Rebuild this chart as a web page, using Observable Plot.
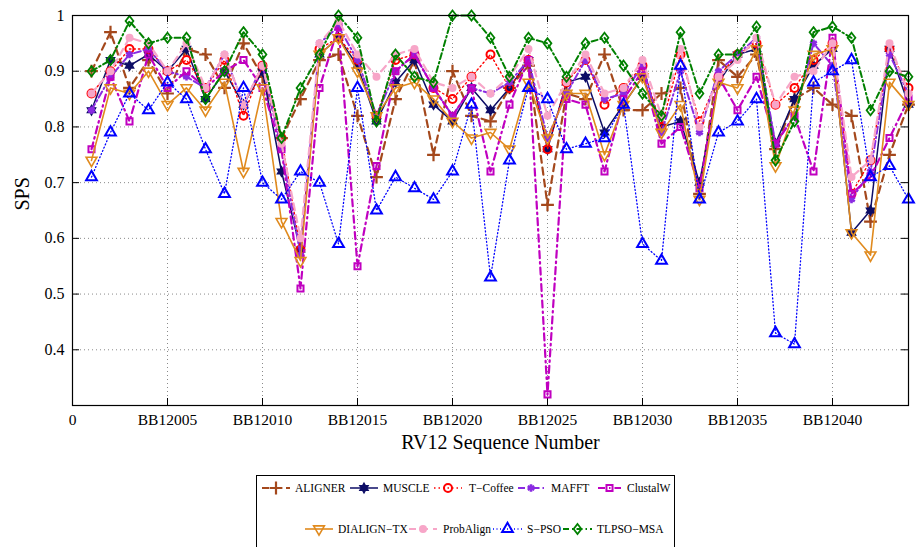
<!DOCTYPE html>
<html><head><meta charset="utf-8">
<script src="https://cdn.jsdelivr.net/npm/d3@7"></script>
<script src="https://cdn.jsdelivr.net/npm/@observablehq/plot@0.6"></script>
<style>
html,body{margin:0;padding:0;background:#fff;}
#chart{width:917px;font-family:"Liberation Serif","Times New Roman",serif;}
#chart svg{display:block;}
</style></head><body><div id="chart"></div>
<script>
// ---------------- data ----------------
const sequenceNumbers = [1,2,3,4,5,6,7,8,9,10,11,12,13,14,15,16,17,18,19,20,21,22,23,24,25,26,27,28,29,30,31,32,33,34,35,36,37,38,39,40,41,42,43,44];
const aligner   = [0.90,0.97,0.87,0.92,0.86,0.94,0.93,0.87,0.95,0.89,0.78,0.85,0.92,0.93,0.82,0.71,0.85,0.92,0.75,0.90,0.82,0.81,0.87,0.91,0.66,0.86,0.85,0.93,0.83,0.83,0.86,0.87,0.68,0.92,0.89,0.93,0.76,0.85,0.87,0.84,0.82,0.63,0.75,0.84];
const muscle    = [0.83,0.92,0.91,0.93,0.90,0.94,0.85,0.90,0.84,0.90,0.72,0.58,0.93,0.96,0.91,0.81,0.88,0.92,0.84,0.81,0.87,0.83,0.87,0.92,0.76,0.88,0.89,0.79,0.84,0.89,0.80,0.81,0.70,0.88,0.93,0.94,0.77,0.85,0.91,0.94,0.61,0.65,0.94,0.84];
const tcoffee   = [0.86,0.90,0.94,0.94,0.90,0.92,0.87,0.92,0.82,0.91,0.78,0.58,0.94,0.96,0.92,0.82,0.92,0.93,0.87,0.85,0.89,0.93,0.87,0.92,0.76,0.88,0.92,0.84,0.87,0.91,0.80,0.93,0.81,0.89,0.93,0.95,0.84,0.87,0.92,0.95,0.68,0.74,0.94,0.87];
const mafft     = [0.83,0.89,0.93,0.94,0.90,0.89,0.87,0.93,0.84,0.91,0.76,0.57,0.95,0.98,0.92,0.82,0.90,0.93,0.87,0.82,0.87,0.86,0.88,0.92,0.78,0.86,0.92,0.85,0.86,0.91,0.79,0.90,0.79,0.90,0.93,0.96,0.77,0.82,0.95,0.91,0.67,0.72,0.93,0.86];
const clustalw  = [0.76,0.89,0.81,0.93,0.87,0.90,0.87,0.90,0.92,0.87,0.76,0.51,0.87,0.98,0.55,0.73,0.90,0.93,0.87,0.82,0.87,0.72,0.84,0.92,0.32,0.85,0.84,0.72,0.85,0.90,0.77,0.80,0.69,0.89,0.83,0.89,0.77,0.82,0.72,0.96,0.68,0.71,0.78,0.85];
const dialign   = [0.74,0.87,0.86,0.90,0.84,0.87,0.83,0.88,0.72,0.87,0.63,0.56,0.93,0.96,0.90,0.82,0.87,0.88,0.85,0.81,0.78,0.79,0.76,0.88,0.78,0.86,0.86,0.75,0.84,0.89,0.79,0.84,0.67,0.88,0.87,0.94,0.73,0.83,0.93,0.94,0.61,0.57,0.88,0.84];
const probalign = [0.86,0.90,0.96,0.95,0.90,0.95,0.87,0.93,0.84,0.91,0.77,0.60,0.95,0.99,0.93,0.89,0.93,0.94,0.88,0.87,0.89,0.86,0.89,0.94,0.82,0.88,0.93,0.86,0.87,0.92,0.82,0.94,0.80,0.89,0.92,0.96,0.84,0.89,0.90,0.95,0.71,0.74,0.95,0.86];
const spso      = [0.71,0.79,0.86,0.83,0.88,0.85,0.76,0.68,0.87,0.70,0.67,0.72,0.70,0.59,0.87,0.65,0.71,0.69,0.67,0.72,0.84,0.53,0.74,0.87,0.85,0.76,0.77,0.78,0.84,0.59,0.56,0.91,0.67,0.79,0.81,0.85,0.43,0.41,0.88,0.90,0.92,0.71,0.73,0.67];
const tlpso     = [0.90,0.92,0.99,0.95,0.96,0.96,0.85,0.90,0.97,0.93,0.78,0.87,0.93,1.00,0.96,0.81,0.93,0.89,0.88,1.00,1.00,0.96,0.89,0.96,0.95,0.89,0.95,0.96,0.91,0.86,0.82,0.97,0.86,0.93,0.93,0.98,0.74,0.81,0.97,0.98,0.96,0.83,0.90,0.89];

const seriesNames  = ["ALIGNER","MUSCLE","T\u2212Coffee","MAFFT","ClustalW","DIALIGN\u2212TX","ProbAlign","S\u2212PSO","TLPSO\u2212MSA"];
const seriesValues = [aligner, muscle, tcoffee, mafft, clustalw, dialign, probalign, spso, tlpso];

const xTickValues = [0,5,10,15,20,25,30,35,40];
const xTickLabels = ["0","BB12005","BB12010","BB12015","BB12020","BB12025","BB12030","BB12035","BB12040"];
const yTickValues = [0.4,0.5,0.6,0.7,0.8,0.9,1];
const yTickLabels = ["0.4","0.5","0.6","0.7","0.8","0.9","1"];

// ---------------- custom symbols ----------------
const symInvTriangle = {draw(ctx, size){
  const s = Math.sqrt(4*size/Math.sqrt(3)), h = s*Math.sqrt(3)/2;
  ctx.moveTo(-s/2, -h/3); ctx.lineTo(s/2, -h/3); ctx.lineTo(0, 2*h/3); ctx.closePath();
}};
const symTriangle = {draw(ctx, size){
  const s = Math.sqrt(4*size/Math.sqrt(3)), h = s*Math.sqrt(3)/2;
  ctx.moveTo(-s/2, h/3); ctx.lineTo(s/2, h/3); ctx.lineTo(0, -2*h/3); ctx.closePath();
}};
const symHexagram = {draw(ctx, size){
  const R = Math.sqrt(size)*0.7, r = R/Math.sqrt(3);
  for (let i = 0; i < 12; i++) {
    const a = -Math.PI/2 + i*Math.PI/6, rr = i%2 ? r : R;
    const px = rr*Math.cos(a), py = rr*Math.sin(a);
    i ? ctx.lineTo(px, py) : ctx.moveTo(px, py);
  }
  ctx.closePath();
}};
const symDiamond = {draw(ctx, size){
  const w = Math.sqrt(size)*0.55, h = w*1.3;
  ctx.moveTo(0,-h); ctx.lineTo(w,0); ctx.lineTo(0,h); ctx.lineTo(-w,0); ctx.closePath();
}};
const symSquare = {draw(ctx, size){
  const w = Math.sqrt(size)*0.45;
  ctx.rect(-w,-w,2*w,2*w);
}};

// ---------------- styles (per series, by index) ----------------
const seriesStyles = [
  {color:"#a4481c", lw:2.2, dash:"7,5",          sym:d3.symbolPlus,     r:4.2, fill:"none",     sw:2.2},
  {color:"#0d0d66", lw:1.5, dash:null,           sym:symHexagram,       r:4.0, fill:"#0d0d66",  sw:1.2},
  {color:"#ff0000", lw:1.4, dash:"1.5,3",        sym:d3.symbolCircle,   r:4.0, fill:"none",     sw:2.0},
  {color:"#8a2be2", lw:2.0, dash:"7,3,1.5,3",    sym:d3.symbolAsterisk, r:3.6, fill:"none",     sw:2.6},
  {color:"#c000c0", lw:2.2, dash:"7,4,1.5,4",    sym:symSquare,         r:3.8, fill:"none",     sw:2.0},
  {color:"#e08a1e", lw:1.6, dash:null,           sym:symInvTriangle,    r:4.0, fill:"none",     sw:1.6},
  {color:"#f7a6c8", lw:2.2, dash:"7,5",          sym:d3.symbolCircle,   r:4.0, fill:"#f7a6c8",  sw:0},
  {color:"#0000ff", lw:1.3, dash:"1,2.5",        sym:symTriangle,       r:4.0, fill:"none",     sw:2.0},
  {color:"#008000", lw:2.0, dash:"6,3,1.5,3",    sym:symDiamond,        r:4.0, fill:"none",     sw:1.8}
];

// ---------------- table ----------------
const table = [];
seriesNames.forEach((name, k) => {
  seriesValues[k].forEach((v, i) => table.push({series: k, name, seq: sequenceNumbers[i], sps: v}));
});

const W = 917, H = 462;
const mL = 72, mR = 9, mT = 15, mB = 57;
const plotW = W - mL - mR, plotH = H - mT - mB;
const tick = 7;
const serif = '"Liberation Serif","Times New Roman",serif';

const seriesMarks = [];
seriesNames.forEach((name, k) => {
  const st = seriesStyles[k];
  const rows = table.filter(d => d.series === k);
  seriesMarks.push(Plot.line(rows, {x: "seq", y: "sps", stroke: st.color, strokeWidth: st.lw, strokeDasharray: st.dash || undefined, strokeLinejoin: "round"}));
  seriesMarks.push(Plot.dot(rows, {x: "seq", y: "sps", symbol: st.sym, r: st.r, fill: st.fill, stroke: st.sw ? st.color : "none", strokeWidth: st.sw}));
});

const xLabelOf = new Map(xTickValues.map((v, i) => [v, xTickLabels[i]]));
const yLabelOf = new Map(yTickValues.map((v, i) => [v, yTickLabels[i]]));

const chart = Plot.plot({
  width: W, height: H,
  marginLeft: mL, marginRight: mR, marginTop: mT, marginBottom: mB,
  style: {fontFamily: serif, fontSize: "16px", background: "#fff", color: "#000", overflow: "visible"},
  x: {domain: [0, 44]},
  y: {domain: [0.3, 1]},
  marks: [
    Plot.gridX(xTickValues, {stroke: "#8a8a8a", strokeOpacity: 1, strokeDasharray: "1,3", strokeWidth: 1}),
    Plot.gridY(yTickValues, {stroke: "#8a8a8a", strokeOpacity: 1, strokeDasharray: "1,3", strokeWidth: 1}),
    Plot.axisX(xTickValues, {tickSize: 0, tickPadding: 8, tickFormat: d => xLabelOf.get(d), label: null, fontSize: 15.5, fontFamily: serif}),
    Plot.axisY(yTickValues, {tickSize: 0, tickPadding: 8, tickFormat: d => yLabelOf.get(d), label: null, fontSize: 16, fontFamily: serif}),
    Plot.tickY(yTickValues, {y: d => d, insetRight: plotW - tick, stroke: "#000", strokeWidth: 1}),
    Plot.tickY(yTickValues, {y: d => d, insetLeft: plotW - tick, stroke: "#000", strokeWidth: 1}),
    Plot.tickX(xTickValues, {x: d => d, insetTop: plotH - tick, stroke: "#000", strokeWidth: 1}),
    Plot.tickX(xTickValues, {x: d => d, insetBottom: plotH - tick, stroke: "#000", strokeWidth: 1}),
    ...seriesMarks,
    Plot.frame({stroke: "#000", strokeWidth: 1.2}),
    Plot.text(["SPS"], {frameAnchor: "left", dx: -50, rotate: -90, fontSize: 20, fontFamily: serif, fill: "#000"}),
    Plot.text(["RV12 Sequence Number"], {frameAnchor: "bottom", dx: 10, dy: 43, fontSize: 20, fontFamily: serif, fill: "#000"})
  ]
});
document.getElementById("chart").appendChild(chart);

// ---------------- legend (below the plot) ----------------
const legendLayout = [
  {k:0, row:0, x1:262, x2:290, tx:295},
  {k:1, row:0, x1:350, x2:378, tx:383},
  {k:2, row:0, x1:434, x2:462, tx:469},
  {k:3, row:0, x1:518, x2:544, tx:551},
  {k:4, row:0, x1:598, x2:621, tx:627},
  {k:5, row:1, x1:305, x2:333, tx:338},
  {k:6, row:1, x1:409, x2:437, tx:443},
  {k:7, row:1, x1:493, x2:522, tx:527},
  {k:8, row:1, x1:563, x2:592, tx:597}
];
const rowY = [26, 67];
const lg = d3.create("svg").attr("width", W).attr("height", 85).style("display","block").style("background","#fff");
lg.append("rect").attr("x", 256.5).attr("y", 13.5).attr("width", 418).attr("height", 80)
  .attr("fill", "#fff").attr("stroke", "#000").attr("stroke-width", 1);
legendLayout.forEach(item => {
  const st = seriesStyles[item.k];
  const y = rowY[item.row];
  lg.append("line").attr("x1", item.x1).attr("x2", item.x2).attr("y1", y).attr("y2", y)
    .attr("stroke", st.color).attr("stroke-width", st.lw).attr("stroke-dasharray", st.dash || null);
  lg.append("path").attr("transform", `translate(${(item.x1+item.x2)/2},${y})`)
    .attr("d", d3.symbol(st.sym, Math.PI*st.r*st.r)())
    .attr("fill", st.fill).attr("stroke", st.sw ? st.color : "none").attr("stroke-width", st.sw);
  lg.append("text").attr("x", item.tx).attr("y", y).attr("dy", "0.35em")
    .style("font-family", serif).style("font-size", "11.5px").attr("fill", "#000").text(seriesNames[item.k]);
});
document.getElementById("chart").appendChild(lg.node());
</script>
</body></html>
